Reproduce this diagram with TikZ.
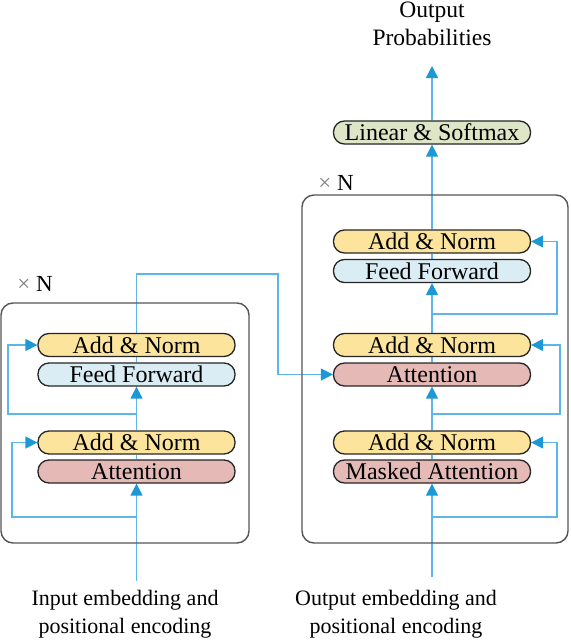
\documentclass[tikz,border=0pt]{standalone}
\usepackage{fontspec}
\setmainfont{Liberation Serif}
\usetikzlibrary{arrows.meta,backgrounds}
\definecolor{anfill}{HTML}{FCE49C}
\definecolor{fffill}{HTML}{DBEDF4}
\definecolor{attfill}{HTML}{E5B9B5}
\definecolor{linfill}{HTML}{DDE6C6}
\definecolor{lineblue}{HTML}{5DB6E6}
\definecolor{arrowblue}{HTML}{1C98D6}
\definecolor{boxgray}{HTML}{555555}
\tikzset{
  block/.style={draw=black!85, line width=1.3pt, rounded corners=11pt, minimum width=197pt, minimum height=23pt, inner sep=0pt, font=\fontsize{24}{27}\selectfont},
  an/.style={block, fill=anfill},
  ff/.style={block, fill=fffill},
  att/.style={block, fill=attfill},
  lin/.style={block, fill=linfill},
  outer/.style={draw=boxgray, line width=1.4pt, rounded corners=12pt},
  conn/.style={draw=lineblue, line width=1.4pt},
  arr/.style={conn, -{Triangle[width=12pt,length=12pt,color=arrowblue]}},
  lbl/.style={align=center, font=\fontsize{22}{28}\selectfont, inner sep=0pt},
  xn/.style={font=\fontsize{23}{26}\selectfont, inner sep=0pt}
}
\begin{document}
\begin{tikzpicture}[x=1pt,y=-1pt]
\begin{scope}[on background layer]
\fill[white] (0,0) rectangle (570,642);
\end{scope}
\useasboundingbox (0,0) rectangle (570,642);
% outer boxes
\draw[outer] (1,303) rectangle (249,543);
\draw[outer] (302,195) rectangle (568,543);
\node[xn] (encN) at (35,284) {{\color{gray}×} N};
\node[xn] (decN) at (336,183) {{\color{gray}×} N};
% encoder blocks
\node[an]  (eAN2) at (136.5,345)   {Add \& Norm};
\node[ff]  (eFF)  at (136.5,374.5) {Feed Forward};
\node[an]  (eAN1) at (136.5,442.5) {Add \& Norm};
\node[att] (eAtt) at (136.5,471.5) {Attention};
% decoder blocks
\node[lin] (lin)  at (432,132.5) {Linear \& Softmax};
\node[an]  (dAN3) at (432,241.5) {Add \& Norm};
\node[ff]  (dFF)  at (432,271)   {Feed Forward};
\node[an]  (dAN2) at (432,345)   {Add \& Norm};
\node[att] (dAtt) at (432,374.5) {Attention};
\node[an]  (dAN1) at (432,442.5) {Add \& Norm};
\node[att] (dMA)  at (432,471.5) {Masked Attention};
% labels
\node[lbl] (inlbl)  at (125,614) {Input embedding and\\positional encoding};
\node[lbl] (outlbl) at (396,614) {Output embedding and\\positional encoding};
\node[lbl, font=\fontsize{23.5}{28}\selectfont] (prob) at (432,24) {Output\\Probabilities};
% coordinates
\coordinate (ein) at (136.5,581);
\coordinate (din) at (432,577);
\coordinate (eTop) at (136.5,274);
\coordinate (eR) at (278,274);
\coordinate (eCross) at (278,374.5);
\coordinate (e1) at (136.5,517);
\coordinate (e2) at (136.5,414);
\coordinate (d1) at (432,517);
\coordinate (d2) at (432,414);
\coordinate (d3) at (432,314);
\coordinate (pout) at (432,66);
\begin{scope}[on background layer]
% encoder
\draw[arr] (ein) -- (eAtt.south);
\draw[conn] (eAtt.north) -- (eAN1.south);
\draw[arr] (eAN1.north) -- (eFF.south);
\draw[conn] (eFF.north) -- (eAN2.south);
\draw[conn] (eAN2.north) -- (eTop) -- (eR) -- (eCross);
\draw[arr] (eCross) -- (dAtt.west);
\draw[arr] (e1) -- (12,517) |- (eAN1.west);
\draw[arr] (e2) -- (8,414) |- (eAN2.west);
% decoder
\draw[arr] (din) -- (dMA.south);
\draw[conn] (dMA.north) -- (dAN1.south);
\draw[arr] (dAN1.north) -- (dAtt.south);
\draw[conn] (dAtt.north) -- (dAN2.south);
\draw[arr] (dAN2.north) -- (dFF.south);
\draw[conn] (dFF.north) -- (dAN3.south);
\draw[arr] (dAN3.north) -- (lin.south);
\draw[arr] (lin.north) -- (pout);
\draw[arr] (d1) -- (557,517) |- (dAN1.east);
\draw[arr] (d2) -- (560,414) |- (dAN2.east);
\draw[arr] (d3) -- (557,314) |- (dAN3.east);
\end{scope}
\end{tikzpicture}
\end{document}
